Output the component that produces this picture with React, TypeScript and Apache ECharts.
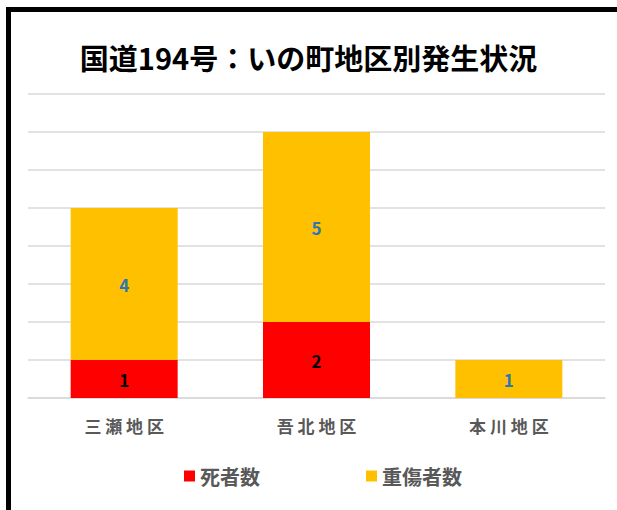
import React, { useEffect, useRef } from "react";
import * as echarts from "echarts";

const title = "国道194号：いの町地区別発生状況";
const categories = ["三瀬地区", "吾北地区", "本川地区"];
const deaths = [1, 2, 0];
const seriousInjuries = [4, 5, 1];
const seriesNames = ["死者数", "重傷者数"];

const CJK = '"Noto Sans CJK JP", "Noto Sans", sans-serif';

export default function App() {
  const ref = useRef<HTMLDivElement>(null);
  useEffect(() => {
    document.body.style.margin = "0";
    const chart = echarts.init(ref.current!, null, { renderer: "svg" });
    chart.setOption({
      animation: false,
      backgroundColor: "#ffffff",
      title: {
        text: title,
        left: "center",
        top: 37,
        textStyle: { fontFamily: CJK, fontSize: 29, fontWeight: "bold", color: "#000000" },
      },
      graphic: [
        {
          type: "rect",
          shape: { x: 8.5, y: 9.5, width: 700, height: 600 },
          style: { fill: "none", stroke: "#000000", lineWidth: 5 },
          silent: true,
        },
      ],
      legend: {
        left: 179,
        top: 461,
        itemWidth: 11,
        itemHeight: 11,
        itemGap: 106,
        icon: "rect",
        textStyle: { fontFamily: CJK, fontSize: 20, fontWeight: "bold", color: "#595959" },
        data: seriesNames,
      },
      grid: { left: 28, right: 12, top: 94, bottom: 112 },
      xAxis: {
        type: "category",
        data: categories,
        axisLine: { lineStyle: { color: "#D9D9D9", width: 1.5 } },
        axisTick: { show: false },
        axisLabel: {
          margin: 19,
          fontFamily: CJK,
          fontSize: 17,
          fontWeight: "bold",
          color: "#595959",
          formatter: (v: string) => v.split("").join(" "),
        },
      },
      yAxis: {
        type: "value",
        min: 0,
        max: 8,
        interval: 1,
        axisLabel: { show: false },
        axisLine: { show: false },
        axisTick: { show: false },
        splitLine: { lineStyle: { color: "#D9D9D9", width: 1.5 } },
      },
      series: [
        {
          name: seriesNames[0],
          type: "bar",
          stack: "total",
          barWidth: 107,
          data: deaths,
          itemStyle: { color: "#FF0000" },
          label: {
            show: true,
            position: "inside",
            fontFamily: CJK,
            fontSize: 17,
            fontWeight: "bold",
            color: "#000000",
            formatter: (p: any) => (p.value ? String(p.value) : ""),
          },
        },
        {
          name: seriesNames[1],
          type: "bar",
          stack: "total",
          barWidth: 107,
          data: seriousInjuries,
          itemStyle: { color: "#FFC000" },
          label: {
            show: true,
            position: "inside",
            fontFamily: CJK,
            fontSize: 17,
            fontWeight: "bold",
            color: "#2E75B6",
            formatter: (p: any) => (p.value ? String(p.value) : ""),
          },
        },
      ],
    });
    return () => chart.dispose();
  }, []);
  return <div ref={ref} style={{ width: 617, height: 510 }} />;
}
